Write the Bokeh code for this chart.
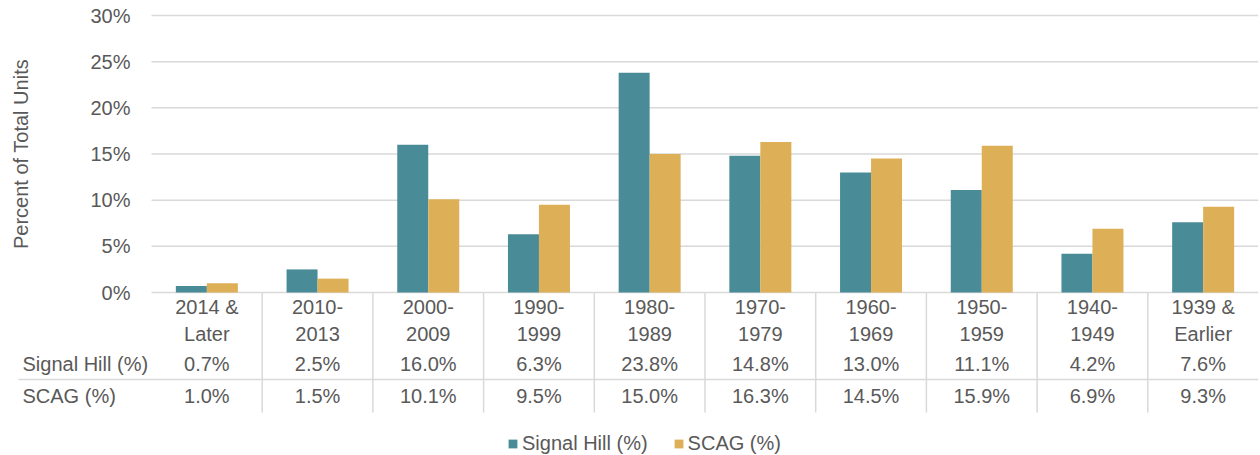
from math import pi
from bokeh.plotting import figure
from bokeh.models import (ColumnDataSource, FactorRange, Range1d, FixedTicker,
                          PrintfTickFormatter, Label, Legend, LegendItem)
from bokeh.transform import dodge
from bokeh.core.properties import value
from bokeh.embed import file_html
from bokeh.resources import INLINE

# ---------------- data ----------------
categories = ["2014 & Later", "2010-2013", "2000-2009", "1990-1999", "1980-1989",
              "1970-1979", "1960-1969", "1950-1959", "1940-1949", "1939 & Earlier"]
signal_hill = [0.7, 2.5, 16.0, 6.3, 23.8, 14.8, 13.0, 11.1, 4.2, 7.6]
scag = [1.0, 1.5, 10.1, 9.5, 15.0, 16.3, 14.5, 15.9, 6.9, 9.3]
series_names = ["Signal Hill (%)", "SCAG (%)"]
y_ticks = [0, 5, 10, 15, 20, 25, 30]
y_title = "Percent of Total Units"

# ---------------- style ----------------
FONT = "Liberation Sans"
FS = "20px"
TXT = "#595959"
GRID = "#D9D9D9"
TEAL = "#4A8B98"
GOLD = "#DDAF57"
W, H = 1260, 455

# layout (pixels)
PLOT_LEFT, PLOT_RIGHT = 151, 1258
PLOT_TOP, ZERO, TABLE_BOTTOM = 15, 292, 412
PX = (ZERO - PLOT_TOP) / y_ticks[-1]
CAT_W = (PLOT_RIGHT - PLOT_LEFT) / len(categories)
GROUP_PAD = PLOT_LEFT / CAT_W - 1


def ydat(py):
    return (ZERO - py) / PX


def xdat(px):
    return px / CAT_W


def two_lines(c):
    if "& " in c:
        return c.replace("& ", "&\n")
    return c.replace("-", "-\n")


ROW_FACTOR = ("labels", "rows")
factors = [("data", c) for c in categories]

src = ColumnDataSource(dict(
    cat=factors,
    sh=signal_hill,
    sc=scag,
    sh_txt=[f"{v:.1f}%" for v in signal_hill],
    sc_txt=[f"{v:.1f}%" for v in scag],
    label=[two_lines(c) for c in categories],
))
div_src = ColumnDataSource(dict(cat=factors[:-1]))
grid_src = ColumnDataSource(dict(y=y_ticks))

x_range = FactorRange(ROW_FACTOR, *factors, group_padding=GROUP_PAD,
                      factor_padding=0, range_padding=0)
p = figure(x_range=x_range, y_range=Range1d(ydat(H), ydat(0)),
           width=W, height=H,
           min_border_left=0, min_border_right=W - PLOT_RIGHT,
           min_border_top=0, min_border_bottom=0,
           output_backend="svg", toolbar_location=None, x_axis_location=None)
p.outline_line_color = None
p.xgrid.visible = False
p.ygrid.visible = False

X_START = xdat(PLOT_LEFT)
X_END = xdat(PLOT_RIGHT)

yax = p.yaxis[0]
yax.fixed_location = X_START
yax.bounds = (y_ticks[0], y_ticks[-1])
yax.ticker = FixedTicker(ticks=y_ticks)
yax.formatter = PrintfTickFormatter(format="%d%%")
yax.axis_line_color = None
yax.major_tick_line_color = None
yax.minor_tick_line_color = None
yax.major_label_standoff = 15
yax.major_label_text_font = FONT
yax.major_label_text_font_size = FS
yax.major_label_text_color = TXT

# gridlines (only across the plotting area)
p.segment(x0=X_START, x1=X_END, y0="y", y1="y", source=grid_src,
          line_color=GRID, line_width=1.5)

# bars
r1 = p.vbar(x=dodge("cat", -0.14, range=p.x_range), top="sh", width=0.28,
            source=src, fill_color=TEAL, line_color=None)
r2 = p.vbar(x=dodge("cat", 0.14, range=p.x_range), top="sc", width=0.28,
            source=src, fill_color=GOLD, line_color=None)

# data table
p.segment(x0=dodge("cat", 0.5, range=p.x_range), y0=0,
          x1=dodge("cat", 0.5, range=p.x_range), y1=ydat(TABLE_BOTTOM),
          source=div_src, line_color=GRID, line_width=1.5)
p.segment(x0=xdat(18), x1=X_END, y0=ydat(379), y1=ydat(379),
          line_color=GRID, line_width=1.5)

common = dict(text_align="center", text_baseline="middle", text_font=value(FONT),
              text_font_size=FS, text_color=TXT, source=src)
p.text(x="cat", y=ydat(320), text="label", text_line_height=1.22, **common)
p.text(x="cat", y=ydat(363.5), text="sh_txt", **common)
p.text(x="cat", y=ydat(395.5), text="sc_txt", **common)

for name, py in zip(series_names, [363.5, 395.5]):
    p.add_layout(Label(x=xdat(22), y=ydat(py), text=name, text_align="left",
                       text_baseline="middle", text_font=FONT, text_font_size=FS,
                       text_color=TXT))

p.add_layout(Label(x=xdat(20), y=y_ticks[-1] / 2, text=y_title, angle=pi / 2,
                   text_align="center", text_baseline="middle", text_font=FONT,
                   text_font_size=FS, text_color=TXT))

legend = Legend(items=[LegendItem(label=series_names[0], renderers=[r1]),
                       LegendItem(label=series_names[1], renderers=[r2])],
                orientation="horizontal", location=(507, 0),
                border_line_color=None, background_fill_alpha=0, padding=0, margin=0,
                spacing=25, label_standoff=4, glyph_width=11, glyph_height=11,
                label_height=11,
                label_text_font=FONT, label_text_font_size=FS, label_text_color=TXT)
p.add_layout(legend)

open("out.html", "w").write(file_html(p, INLINE))
